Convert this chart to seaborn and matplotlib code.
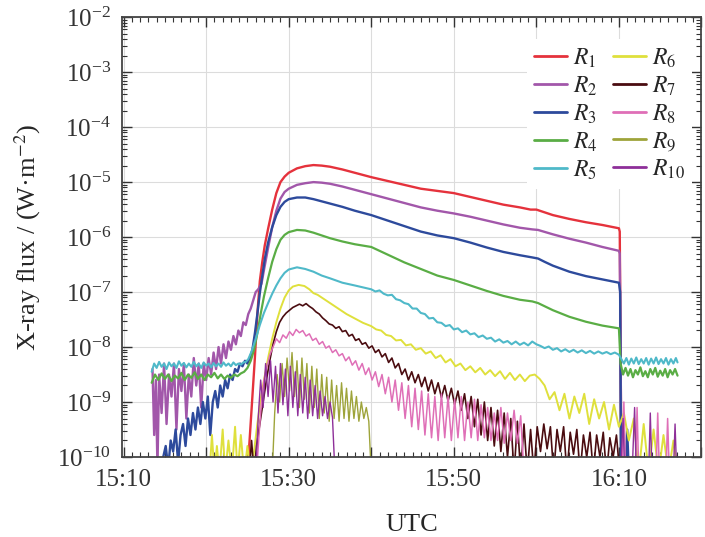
import numpy as np
import pandas as pd
import seaborn as sns
import matplotlib.pyplot as plt
from matplotlib.ticker import MultipleLocator, LogLocator, FuncFormatter, NullFormatter

# (minutes after 15:00 UTC, log10 flux in W/m^2)
# values below -10 are dropouts, they sit under the bottom of the axis
R1 = [(25.0, -10.3), (25.3, -9.6), (25.6, -8.9), (25.9, -8.2), (26.2, -7.4), (26.5, -6.8), (26.8, -6.45),
      (27.1, -6.15), (27.5, -5.85), (28.0, -5.5), (28.5, -5.2), (29.0, -5.0), (29.5, -4.9), (30.0, -4.83),
      (31.0, -4.75), (32.0, -4.71), (33.0, -4.69), (34.0, -4.7), (35.0, -4.72), (36.5, -4.77), (38.0, -4.83),
      (40.0, -4.91), (42.0, -4.98), (44.0, -5.05), (46.0, -5.12), (48.0, -5.16), (50.0, -5.2), (52.0, -5.27),
      (54.0, -5.34), (56.0, -5.41), (58.0, -5.46), (59.3, -5.5), (60.0, -5.5), (60.6, -5.53), (62.0, -5.6),
      (64.0, -5.67), (66.0, -5.73), (68.0, -5.78), (70.0, -5.84), (70.1, -5.9), (70.2, -8.0), (70.3, -10.3)]

R2 = [(13.5, -8.4), (13.7, -9.6), (13.9, -8.6), (14.1, -10.2), (14.3, -8.5), (14.6, -9.2), (14.9, -8.3),
      (15.2, -9.4), (15.5, -8.5), (15.8, -8.9), (16.1, -8.3), (16.4, -9.5), (16.7, -8.4), (17.0, -8.8),
      (17.3, -8.3), (17.6, -9.3), (17.9, -8.5), (18.2, -8.9), (18.5, -8.2), (18.8, -8.7), (19.1, -8.3),
      (19.4, -9.1), (19.7, -8.3), (20.0, -8.6), (20.3, -8.2), (20.6, -8.5), (20.9, -8.1), (21.2, -8.4),
      (21.5, -8.0), (21.8, -8.3), (22.1, -7.95), (22.4, -8.2), (22.7, -7.9), (23.0, -8.05), (23.3, -7.8),
      (23.6, -7.95), (23.9, -7.7), (24.2, -7.8), (24.5, -7.55), (24.8, -7.6), (25.1, -7.4), (25.4, -7.3),
      (25.7, -7.15), (26.0, -7.0), (26.3, -6.95), (26.7, -6.85), (27.0, -6.6), (27.5, -6.2), (28.0, -5.82),
      (28.5, -5.52), (29.0, -5.3), (29.5, -5.18), (30.0, -5.12), (31.0, -5.05), (32.0, -5.02), (33.0, -5.0),
      (34.0, -5.01), (35.0, -5.03), (36.5, -5.08), (38.0, -5.14), (40.0, -5.22), (42.0, -5.3), (44.0, -5.38),
      (46.0, -5.46), (48.0, -5.52), (50.0, -5.57), (52.0, -5.63), (54.0, -5.7), (56.0, -5.77), (58.0, -5.83),
      (59.5, -5.86), (60.2, -5.87), (62.0, -5.95), (64.0, -6.03), (66.0, -6.1), (68.0, -6.18), (70.0, -6.25),
      (70.1, -6.3), (70.2, -8.0), (70.3, -10.3)]

R3 = [(14.4, -10.3), (14.8, -10.0), (15.1, -9.8), (15.4, -10.2), (15.7, -9.7), (16.0, -9.9), (16.3, -9.5),
      (16.6, -10.1), (16.9, -9.6), (17.2, -9.4), (17.5, -9.8), (17.8, -9.3), (18.1, -9.6), (18.4, -9.2),
      (18.7, -9.5), (19.0, -9.1), (19.3, -9.4), (19.6, -9.0), (19.9, -9.3), (20.2, -8.9), (20.5, -9.6),
      (20.8, -9.0), (21.1, -8.8), (21.4, -9.1), (21.7, -8.7), (22.0, -8.9), (22.3, -8.6), (22.6, -8.75),
      (22.9, -8.5), (23.2, -8.6), (23.5, -8.4), (23.8, -8.45), (24.1, -8.3), (24.4, -8.35), (24.7, -8.25),
      (25.0, -8.3), (25.3, -8.2), (25.6, -8.05), (25.9, -7.75), (26.2, -7.4), (26.5, -7.02), (26.8, -6.7),
      (27.1, -6.4), (27.5, -6.1), (28.0, -5.82), (28.5, -5.6), (29.0, -5.45), (29.5, -5.36), (30.0, -5.31),
      (31.0, -5.28), (32.0, -5.28), (33.0, -5.31), (34.0, -5.35), (35.0, -5.39), (36.5, -5.45), (38.0, -5.52),
      (40.0, -5.6), (42.0, -5.7), (44.0, -5.8), (46.0, -5.9), (48.0, -5.97), (50.0, -6.02), (52.0, -6.1),
      (54.0, -6.19), (56.0, -6.27), (58.0, -6.33), (59.5, -6.37), (60.2, -6.39), (61.0, -6.45), (62.0, -6.52),
      (64.0, -6.63), (66.0, -6.71), (68.0, -6.77), (70.0, -6.83), (70.15, -7.0), (70.25, -10.3),
      (70.8, -10.3), (71.0, -9.5), (71.2, -10.3)]

R4 = [(13.4, -8.65), (13.8, -8.5), (14.2, -8.6), (14.6, -8.48), (15.0, -8.58), (15.4, -8.5), (15.8, -8.62),
      (16.2, -8.52), (16.6, -8.57), (17.0, -8.47), (17.4, -8.6), (17.8, -8.5), (18.2, -8.56), (18.6, -8.46),
      (19.0, -8.58), (19.4, -8.5), (19.8, -8.6), (20.2, -8.5), (20.6, -8.55), (21.0, -8.47), (21.4, -8.57),
      (21.8, -8.5), (22.2, -8.58), (22.6, -8.52), (23.0, -8.56), (23.4, -8.5), (23.8, -8.53), (24.2, -8.48),
      (24.6, -8.45), (25.0, -8.38), (25.4, -8.25), (25.8, -8.05), (26.2, -7.75), (26.6, -7.4), (27.0, -7.08),
      (27.5, -6.75), (28.0, -6.45), (28.5, -6.22), (29.0, -6.05), (29.5, -5.96), (30.0, -5.91), (31.0, -5.87),
      (32.0, -5.88), (33.0, -5.92), (34.0, -5.97), (35.0, -6.02), (36.5, -6.08), (38.0, -6.13), (40.0, -6.18),
      (42.0, -6.32), (44.0, -6.46), (46.0, -6.58), (48.0, -6.7), (50.0, -6.78), (52.0, -6.88), (54.0, -6.98),
      (56.0, -7.07), (58.0, -7.14), (59.5, -7.17), (60.2, -7.2), (62.0, -7.33), (64.0, -7.45), (66.0, -7.54),
      (68.0, -7.61), (70.0, -7.66), (70.2, -8.3), (70.5, -8.5), (70.8, -8.38), (71.1, -8.52), (71.4, -8.4),
      (71.7, -8.55), (72.0, -8.42), (72.3, -8.5), (72.6, -8.37), (72.9, -8.53), (73.2, -8.44), (73.5, -8.55),
      (73.8, -8.4), (74.1, -8.5), (74.4, -8.38), (74.7, -8.54), (75.0, -8.43), (75.3, -8.52), (75.6, -8.4),
      (75.9, -8.55), (76.2, -8.42), (76.5, -8.5), (76.8, -8.4), (77.1, -8.52)]

R5 = [(13.4, -8.45), (13.7, -8.3), (14.0, -8.38), (14.3, -8.27), (14.6, -8.36), (14.9, -8.3), (15.2, -8.4),
      (15.5, -8.28), (15.8, -8.35), (16.1, -8.3), (16.4, -8.38), (16.7, -8.26), (17.0, -8.34), (17.3, -8.29),
      (17.6, -8.37), (17.9, -8.3), (18.2, -8.36), (18.5, -8.27), (18.8, -8.35), (19.1, -8.3), (19.4, -8.38),
      (19.7, -8.28), (20.0, -8.34), (20.3, -8.3), (20.6, -8.37), (20.9, -8.29), (21.2, -8.35), (21.5, -8.3),
      (21.8, -8.36), (22.1, -8.28), (22.4, -8.34), (22.7, -8.3), (23.0, -8.35), (23.3, -8.28), (23.6, -8.33),
      (23.9, -8.3), (24.2, -8.32), (24.5, -8.28), (24.8, -8.27), (25.1, -8.22), (25.5, -8.08), (26.0, -7.85),
      (26.5, -7.6), (27.0, -7.38), (27.5, -7.2), (28.0, -7.03), (28.5, -6.88), (29.0, -6.75), (29.5, -6.65),
      (30.0, -6.59), (31.0, -6.55), (32.0, -6.58), (33.0, -6.63), (34.0, -6.7), (35.0, -6.75), (36.5, -6.83),
      (38.0, -6.88), (40.0, -6.95), (40.5, -6.99), (41.0, -6.97), (41.5, -7.03), (42.0, -7.06), (42.5, -7.05),
      (43.0, -7.13), (43.5, -7.15), (44.0, -7.2), (44.5, -7.22), (45.0, -7.3), (45.5, -7.3), (46.0, -7.38),
      (46.5, -7.4), (47.0, -7.48), (47.5, -7.47), (48.0, -7.55), (48.5, -7.56), (49.0, -7.62), (49.5, -7.6),
      (50.0, -7.68), (50.5, -7.66), (51.0, -7.73), (51.5, -7.7), (52.0, -7.77), (52.5, -7.75), (53.0, -7.82),
      (53.5, -7.79), (54.0, -7.85), (54.5, -7.83), (55.0, -7.9), (55.5, -7.86), (56.0, -7.92), (56.5, -7.89),
      (57.0, -7.95), (57.5, -7.9), (58.0, -7.96), (58.5, -7.92), (59.0, -7.97), (59.5, -7.9), (60.0, -7.95),
      (60.5, -7.98), (61.0, -8.02), (61.5, -7.99), (62.0, -8.05), (62.5, -8.02), (63.0, -8.08), (63.5, -8.04),
      (64.0, -8.09), (64.5, -8.05), (65.0, -8.1), (65.5, -8.06), (66.0, -8.11), (66.5, -8.07), (67.0, -8.12),
      (67.5, -8.08), (68.0, -8.12), (68.5, -8.09), (69.0, -8.13), (69.5, -8.1), (70.0, -8.14), (70.3, -8.22),
      (70.6, -8.3), (70.9, -8.2), (71.2, -8.32), (71.5, -8.21), (71.8, -8.3), (72.1, -8.19), (72.4, -8.31),
      (72.7, -8.22), (73.0, -8.3), (73.3, -8.2), (73.6, -8.32), (73.9, -8.21), (74.2, -8.3), (74.5, -8.19),
      (74.8, -8.31), (75.1, -8.22), (75.4, -8.3), (75.7, -8.2), (76.0, -8.32), (76.3, -8.22), (76.6, -8.3),
      (76.9, -8.2), (77.1, -8.28)]

R6 = [(20.4, -10.3), (20.7, -9.6), (21.0, -10.3), (21.3, -9.8), (21.6, -10.3), (22.0, -9.5), (22.3, -10.3),
      (22.7, -9.7), (23.1, -10.3), (23.5, -9.45), (23.8, -10.3), (24.2, -9.6), (24.6, -10.3), (25.0, -9.8),
      (25.4, -10.3), (25.8, -9.9), (26.2, -9.4), (26.6, -8.95), (27.0, -8.6), (27.5, -8.2), (28.0, -7.85),
      (28.5, -7.55), (29.0, -7.3), (29.5, -7.1), (30.0, -6.97), (30.5, -6.9), (31.2, -6.87), (31.9, -6.89),
      (32.5, -6.95), (33.0, -7.02), (33.5, -7.05), (34.0, -7.1), (35.0, -7.2), (36.0, -7.3), (37.0, -7.4),
      (38.0, -7.48), (39.0, -7.56), (40.0, -7.62), (40.6, -7.68), (41.2, -7.7), (41.8, -7.78), (42.4, -7.8),
      (43.0, -7.88), (43.6, -7.87), (44.2, -7.97), (44.8, -7.95), (45.4, -8.05), (46.0, -8.02), (46.6, -8.12),
      (47.2, -8.08), (47.8, -8.2), (48.4, -8.15), (49.0, -8.28), (49.6, -8.22), (50.2, -8.35), (50.8, -8.3),
      (51.4, -8.42), (52.0, -8.35), (52.6, -8.46), (53.2, -8.38), (53.8, -8.5), (54.4, -8.42), (55.0, -8.53),
      (55.6, -8.44), (56.2, -8.58), (56.8, -8.47), (57.4, -8.6), (58.0, -8.5), (58.6, -8.62), (59.2, -8.52),
      (59.8, -8.5), (60.4, -8.58), (61.0, -8.7), (61.6, -8.95), (62.2, -8.82), (62.8, -9.15), (63.4, -8.85),
      (64.0, -9.3), (64.6, -8.9), (65.2, -9.2), (65.8, -8.85), (66.4, -9.4), (67.0, -8.95), (67.6, -9.3),
      (68.2, -9.0), (68.8, -9.5), (69.4, -9.05), (70.0, -9.45), (70.6, -9.2), (71.2, -9.7), (71.8, -9.3),
      (72.4, -10.3), (73.0, -9.4), (73.6, -10.3), (74.2, -9.5), (74.8, -10.3), (75.4, -9.6), (76.0, -10.3),
      (76.6, -9.7), (77.1, -10.3)]

R7 = [(25.2, -10.3), (25.5, -9.7), (25.8, -10.3), (26.1, -9.8), (26.5, -9.4), (26.9, -9.0), (27.3, -8.6),
      (27.7, -8.25), (28.1, -7.95), (28.5, -7.72), (28.9, -7.55), (29.3, -7.45), (29.7, -7.38), (30.1, -7.33),
      (30.5, -7.28), (30.9, -7.25), (31.3, -7.22), (31.7, -7.25), (32.1, -7.21), (32.5, -7.26), (32.9, -7.3),
      (33.3, -7.36), (33.7, -7.4), (34.1, -7.47), (34.5, -7.52), (34.9, -7.58), (35.3, -7.6), (35.7, -7.66),
      (36.1, -7.63), (36.5, -7.72), (36.9, -7.7), (37.3, -7.8), (37.7, -7.77), (38.1, -7.88), (38.5, -7.85),
      (38.9, -7.95), (39.3, -7.92), (39.7, -8.02), (40.1, -7.98), (40.5, -8.1), (40.9, -8.05), (41.3, -8.18),
      (41.7, -8.12), (42.1, -8.28), (42.5, -8.2), (42.9, -8.38), (43.3, -8.3), (43.7, -8.5), (44.1, -8.4),
      (44.5, -8.6), (44.9, -8.45), (45.3, -8.65), (45.7, -8.5), (46.1, -8.72), (46.5, -8.55), (46.9, -8.8),
      (47.3, -8.6), (47.7, -8.85), (48.1, -8.65), (48.5, -8.92), (48.9, -8.7), (49.3, -8.98), (49.7, -8.75),
      (50.1, -9.05), (50.5, -8.8), (50.9, -9.15), (51.3, -8.85), (51.7, -9.3), (52.1, -8.9), (52.5, -9.45),
      (52.9, -8.95), (53.3, -9.6), (53.7, -9.0), (54.1, -9.7), (54.5, -9.1), (54.9, -9.8), (55.3, -9.15),
      (55.7, -9.9), (56.1, -9.2), (56.5, -10.0), (56.9, -9.3), (57.3, -10.3), (57.7, -9.35), (58.1, -10.3),
      (58.5, -9.4), (58.9, -10.3), (59.3, -9.5), (59.7, -10.3), (60.1, -9.45), (60.5, -9.9), (60.9, -9.4),
      (61.3, -9.85), (61.7, -9.45), (62.1, -10.3), (62.5, -9.5), (62.9, -9.9), (63.3, -9.45), (63.7, -10.3),
      (64.1, -9.55), (64.5, -9.95), (64.9, -9.5), (65.3, -10.3), (65.7, -9.6), (66.1, -10.0), (66.5, -9.55),
      (66.9, -10.3), (67.3, -9.6), (67.7, -10.0), (68.1, -9.55), (68.5, -10.3), (68.9, -9.65), (69.3, -10.0),
      (69.7, -9.6), (70.1, -10.3)]

R8 = [(26.1, -10.3), (26.4, -9.6), (26.7, -9.0), (27.0, -8.6), (27.3, -8.4), (27.7, -8.15), (28.1, -8.0),
      (28.5, -7.85), (28.9, -7.92), (29.3, -7.78), (29.7, -7.84), (30.1, -7.72), (30.5, -7.79), (30.9, -7.68),
      (31.3, -7.74), (31.7, -7.7), (32.1, -7.8), (32.5, -7.76), (32.9, -7.88), (33.3, -7.84), (33.7, -7.95),
      (34.1, -7.9), (34.5, -8.02), (34.9, -7.98), (35.3, -8.1), (35.7, -8.05), (36.1, -8.16), (36.5, -8.12),
      (36.9, -8.25), (37.3, -8.18), (37.7, -8.33), (38.1, -8.25), (38.5, -8.42), (38.9, -8.3), (39.3, -8.5),
      (39.7, -8.38), (40.1, -8.6), (40.5, -8.45), (40.9, -8.72), (41.3, -8.5), (41.7, -8.85), (42.1, -8.55),
      (42.5, -9.0), (42.9, -8.6), (43.3, -9.15), (43.7, -8.65), (44.1, -9.3), (44.5, -8.7), (44.9, -9.45),
      (45.3, -8.75), (45.7, -9.5), (46.1, -8.8), (46.5, -9.6), (46.9, -8.85), (47.3, -9.65), (47.7, -8.9),
      (48.1, -9.7), (48.5, -8.85), (48.9, -9.65), (49.3, -8.9), (49.7, -9.7), (50.1, -8.95), (50.5, -9.65),
      (50.9, -8.9), (51.3, -9.7), (51.7, -9.0), (52.1, -9.65), (52.5, -8.95), (52.9, -9.7), (53.3, -9.05),
      (53.7, -9.65), (54.1, -9.1), (54.5, -9.7), (54.9, -9.2), (55.3, -9.7), (55.7, -9.1), (56.1, -9.75),
      (56.5, -9.2), (56.9, -9.7), (57.3, -9.15), (57.7, -9.75), (58.1, -9.25), (58.5, -10.3), (70.4, -10.3),
      (70.6, -9.0), (70.8, -10.3), (72.0, -10.3), (72.2, -9.1), (72.4, -10.3), (74.5, -10.3), (74.7, -9.2),
      (74.9, -10.3), (75.7, -10.3), (75.9, -9.3), (76.1, -10.3)]

R9 = [(28.0, -10.3), (28.3, -9.2), (28.6, -8.5), (28.9, -9.0), (29.2, -8.3), (29.5, -8.9), (29.8, -8.2),
      (30.1, -8.8), (30.4, -8.1), (30.7, -8.9), (31.0, -8.25), (31.3, -9.1), (31.6, -8.2), (31.9, -8.95),
      (32.2, -8.3), (32.5, -9.2), (32.8, -8.35), (33.1, -9.1), (33.4, -8.4), (33.7, -9.3), (34.0, -8.5),
      (34.3, -9.2), (34.6, -8.55), (34.9, -9.35), (35.2, -8.6), (35.5, -9.3), (35.8, -8.7), (36.1, -9.35),
      (36.4, -8.65), (36.7, -9.3), (37.0, -8.75), (37.3, -9.35), (37.6, -8.8), (37.9, -9.3), (38.2, -8.9),
      (38.5, -9.35), (38.8, -9.0), (39.1, -9.3), (39.4, -9.1), (39.7, -9.35), (40.0, -10.3)]

R10 = [(26.0, -10.3), (26.3, -9.3), (26.6, -8.6), (26.9, -9.1), (27.2, -8.3), (27.5, -8.9), (27.8, -8.25),
       (28.1, -9.0), (28.4, -8.35), (28.7, -9.2), (29.0, -8.3), (29.3, -9.05), (29.6, -8.4), (29.9, -9.25),
       (30.2, -8.35), (30.5, -9.1), (30.8, -8.45), (31.1, -9.25), (31.4, -8.5), (31.7, -9.2), (32.0, -8.55),
       (32.3, -9.3), (32.6, -8.6), (32.9, -9.25), (33.2, -8.7), (33.5, -9.3), (33.8, -8.8), (34.1, -9.25),
       (34.4, -8.9), (34.7, -9.3), (35.0, -9.0), (35.3, -9.28), (35.6, -10.3), (70.2, -10.3), (70.5, -9.3),
       (70.7, -10.3), (71.6, -10.3), (71.9, -9.1), (72.1, -10.3), (73.6, -10.3), (73.8, -9.2), (74.0, -10.3),
       (76.6, -10.3), (76.8, -9.4), (77.0, -10.3)]

SERIES = [R1, R2, R3, R4, R5, R6, R7, R8, R9, R10]
LABELS = [f'$R_{{{i}}}$' for i in range(1, 11)]
COLORS = ['#e5323c', '#a257aa', '#2d4a9c', '#5aad45', '#4fb9c9',
          '#dfe03c', '#4a0c10', '#df6fb7', '#9ea43a', '#8e2f99']
WIDTHS = [1.7, 1.7, 1.7, 1.6, 1.5, 1.4, 1.2, 1.1, 1.0, 1.0]


def to_frame(points):
    arr = np.array(points)
    return pd.DataFrame({'time': arr[:, 0], 'flux': 10 ** arr[:, 1]})


def hhmm(v, pos):
    # only every second major tick gets a label
    m = int(round(v))
    if m % 20 != 10:
        return ''
    return f'{15 + m // 60}:{m % 60:02d}'


sns.set_theme(style='ticks')
plt.rcParams['font.family'] = ['Liberation Serif', 'DejaVu Serif']
plt.rcParams['mathtext.fontset'] = 'stix'

fig, ax = plt.subplots(figsize=(7.05, 5.37), dpi=100)
fig.subplots_adjust(left=0.173, right=0.995, top=0.968, bottom=0.149)
ax.set_yscale('log')

for pts, lab, col, lw in zip(SERIES, LABELS, COLORS, WIDTHS):
    sns.lineplot(data=to_frame(pts), x='time', y='flux', color=col, lw=lw, label=lab,
                 estimator=None, sort=False, ax=ax)

ax.set_xlim(9.8, 80.0)
ax.set_ylim(1e-10, 1e-2)

ax.xaxis.set_major_locator(MultipleLocator(10))
ax.xaxis.set_minor_locator(MultipleLocator(1))
ax.xaxis.set_major_formatter(FuncFormatter(hhmm))
ax.yaxis.set_major_locator(LogLocator(base=10, numticks=20))
ax.yaxis.set_minor_locator(LogLocator(base=10, subs=np.arange(2, 10), numticks=100))
ax.yaxis.set_minor_formatter(NullFormatter())

ax.grid(True, which='major', color='#dcdcdc', lw=0.8)
ax.tick_params(which='both', direction='in', top=True, right=True, colors='#333333', labelsize=18)
ax.tick_params(which='major', length=7, width=1.0)
ax.tick_params(which='minor', length=3.5, width=0.8)
ax.tick_params(axis='x', pad=9)
ax.tick_params(axis='y', pad=8)
for sp in ax.spines.values():
    sp.set_color('#444444')
    sp.set_linewidth(1.3)

ax.set_xlabel('UTC', fontsize=19, labelpad=16)
ax.set_ylabel('X-ray flux / (W·m$^{-2}$)', fontsize=19, labelpad=10)

# legend sits a bit in from the top right corner, white box without edge
leg = ax.legend(loc='upper right', bbox_to_anchor=(0.984, 0.95), ncol=2, fontsize=17,
                handlelength=1.4, handletextpad=0.25, columnspacing=0.65, labelspacing=0.2,
                borderaxespad=0.0, borderpad=0.3, frameon=True, facecolor='white',
                edgecolor='none', framealpha=1)
for line in leg.get_lines():
    line.set_linewidth(2.0)

fig.savefig('out.png', dpi=100)
